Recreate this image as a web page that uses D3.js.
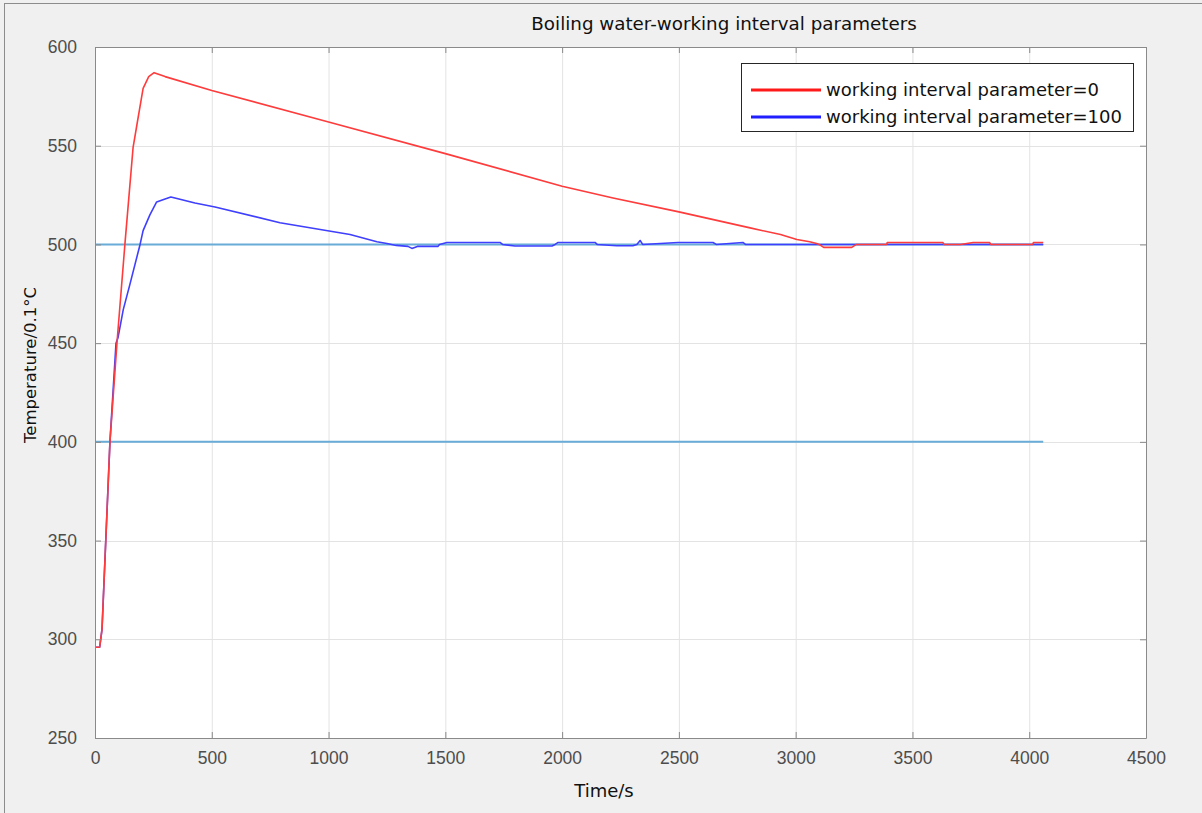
<!DOCTYPE html>
<html>
<head>
<meta charset="utf-8">
<script src="https://cdn.jsdelivr.net/npm/d3@7"></script>
<style>
  body { margin: 0; background: #f0f0f0; }
  svg { display: block; font-family: "DejaVu Sans", sans-serif; }
  .grid line { stroke: #e3e3e3; stroke-width: 1; }
  .axis path, .axis line { stroke: #8a8a8a; }
  .axis text { fill: #4d4d4d; font-size: 17.5px; }
</style>
</head>
<body>
<svg id="chart" width="1202" height="813"></svg>
<script>
// data (time in s, temperature in 0.1 C)
var redTime = [0, 20, 30, 64, 94, 128, 163, 180, 206, 230, 253, 300, 500, 1000, 1500, 2000, 2218, 2500, 2800, 2935, 3005, 3060, 3090, 3100, 3120, 3240, 3260, 3390, 3392, 3630, 3635, 3700, 3705, 3760, 3830, 3835, 4015, 4018, 4060];
var redTemp = [296, 296, 305, 400, 450, 500, 549, 561, 579, 585, 587, 585, 578, 562, 546, 529.5, 523.5, 516.5, 508.5, 505, 502.5, 501.4, 500.5, 500, 498.5, 498.5, 500, 500, 501, 501, 500, 500, 500, 501, 501, 500, 500, 501, 501];

var blueTime = [0, 20, 30, 64, 90, 99, 121, 150, 193, 206, 235, 264, 300, 325, 428, 514, 792, 1092, 1207, 1250, 1290, 1340, 1357, 1380, 1468, 1475, 1507, 1734, 1745, 1798, 1957, 1970, 1983, 2141, 2150, 2234, 2303, 2320, 2334, 2345, 2496, 2646, 2660, 2774, 2785, 4060];
var blueTemp = [296, 296, 305, 400, 450, 453, 467, 480, 500, 507, 515, 521.5, 523, 524, 521, 519, 511, 505, 501.4, 500.5, 499.5, 499, 498, 499, 499, 500, 501, 501, 500, 499.2, 499.2, 500, 501, 501, 500, 499.3, 499.3, 500, 502, 500, 501, 501, 500, 501, 500, 500];

// horizontal reference levels
var refLevels = [500, 400];
var refEnd = 4060;

var xTicks = [0, 500, 1000, 1500, 2000, 2500, 3000, 3500, 4000, 4500];
var yTicks = [250, 300, 350, 400, 450, 500, 550, 600];

var seriesNames = ["working interval parameter=0", "working interval parameter=100"];
var seriesColors = ["#ff3b3b", "#3f3fff"];
var legendColors = ["#ff1a1a", "#1f1fff"];

var margin = {left: 95, top: 47, right: 1146, bottom: 738};

var svg = d3.select("#chart");

// figure border
svg.append("rect")
  .attr("x", 4.5).attr("y", 3.5)
  .attr("width", 1210).attr("height", 820)
  .attr("fill", "#f0f0f0")
  .attr("stroke", "#8c8c8c");

var x = d3.scaleLinear().domain([0, 4500]).range([margin.left, margin.right]);
var y = d3.scaleLinear().domain([250, 600]).range([margin.bottom, margin.top]);

svg.append("rect")
  .attr("x", margin.left).attr("y", margin.top)
  .attr("width", margin.right - margin.left)
  .attr("height", margin.bottom - margin.top)
  .attr("fill", "#ffffff");

// grid
grid = svg.append("g").attr("class", "grid");
grid.selectAll(".vg").data(xTicks.slice(1, -1)).enter()
  .append("line")
  .attr("x1", function(d) { return x(d) + 0.5; })
  .attr("x2", function(d) { return x(d) + 0.5; })
  .attr("y1", margin.top).attr("y2", margin.bottom);
grid.selectAll(".hg").data(yTicks.slice(1, -1)).enter()
  .append("line")
  .attr("y1", function(d) { return Math.round(y(d)) + 0.5; })
  .attr("y2", function(d) { return Math.round(y(d)) + 0.5; })
  .attr("x1", margin.left).attr("x2", margin.right);

// reference lines
svg.selectAll(".ref").data(refLevels).enter()
  .append("line")
  .attr("class", "ref")
  .attr("x1", x(0)).attr("x2", x(refEnd))
  .attr("y1", function(d) { return y(d); })
  .attr("y2", function(d) { return y(d); })
  .attr("stroke", "#69acd8")
  .attr("stroke-width", 2);

line = d3.line()
  .x(function(d) { return x(d[0]); })
  .y(function(d) { return y(d[1]); });

series = [d3.zip(redTime, redTemp), d3.zip(blueTime, blueTemp)];
// blue drawn first so red sits on top where they overlap at the start
[1, 0].forEach(function(i) {
  svg.append("path")
    .datum(series[i])
    .attr("fill", "none")
    .attr("stroke", seriesColors[i])
    .attr("stroke-width", 1.6)
    .attr("stroke-linejoin", "round")
    .attr("d", line);
});

// axes, ticks on all four sides pointing inward
var tl = 6;
var fmt = d3.format("d");
svg.append("g").attr("class", "axis")
  .attr("transform", "translate(0," + margin.bottom + ")")
  .call(d3.axisBottom(x).tickValues(xTicks).tickFormat(fmt).tickSizeInner(-tl).tickSizeOuter(0).tickPadding(14));
svg.append("g").attr("class", "axis")
  .attr("transform", "translate(" + margin.left + ",0)")
  .call(d3.axisLeft(y).tickValues(yTicks).tickFormat(fmt).tickSizeInner(-tl).tickSizeOuter(0).tickPadding(18));
svg.append("g").attr("class", "axis")
  .attr("transform", "translate(0," + margin.top + ")")
  .call(d3.axisTop(x).tickValues(xTicks).tickSizeInner(-tl).tickSizeOuter(0).tickFormat(""));
svg.append("g").attr("class", "axis")
  .attr("transform", "translate(" + margin.right + ",0)")
  .call(d3.axisRight(y).tickValues(yTicks).tickSizeInner(-tl).tickSizeOuter(0).tickFormat(""));

// labels
svg.append("text")
  .text("Boiling water-working interval parameters")
  .attr("x", 724).attr("y", 30)
  .attr("text-anchor", "middle")
  .attr("font-size", "18.3px")
  .attr("fill", "#111");
svg.append("text")
  .text("Time/s")
  .attr("x", 604).attr("y", 797)
  .attr("text-anchor", "middle")
  .attr("font-size", "18px")
  .attr("fill", "#111");
svg.append("text")
  .text("Temperature/0.1°C")
  .attr("transform", "translate(36,365) rotate(-90)")
  .attr("text-anchor", "middle")
  .attr("font-size", "16.5px")
  .attr("fill", "#111");

// legend
leg = svg.append("g");
leg.append("rect")
  .attr("x", 741.5).attr("y", 63.5)
  .attr("width", 392).attr("height", 68)
  .attr("fill", "#ffffff")
  .attr("stroke", "#262626");
seriesNames.forEach(function(name, i) {
  var ly = 90 + i * 27;
  leg.append("line")
    .attr("x1", 751).attr("x2", 821)
    .attr("y1", ly).attr("y2", ly)
    .attr("stroke", legendColors[i])
    .attr("stroke-width", 3);
  leg.append("text")
    .text(name)
    .attr("x", 826).attr("y", ly + 6)
    .attr("font-size", "18px")
    .attr("fill", "#111");
});
</script>
</body>
</html>
